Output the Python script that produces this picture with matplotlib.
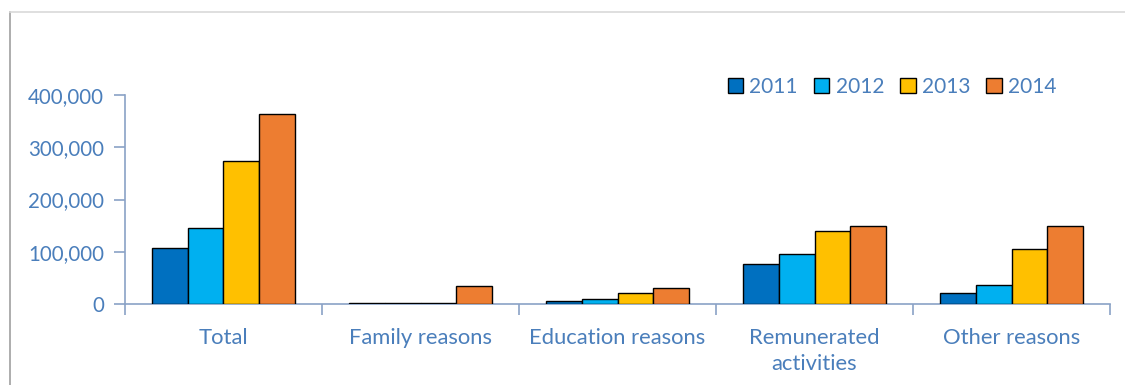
import matplotlib.pyplot as plt
from matplotlib.lines import Line2D
import numpy as np

# Values
categories = ["Total", "Family reasons", "Education reasons",
              "Remunerated\nactivities", "Other reasons"]
years = ["2011", "2012", "2013", "2014"]
v2011 = [107000, 1500, 6000, 76000, 21000]
v2012 = [146000, 1500, 9500, 96000, 36000]
v2013 = [274000, 1500, 21000, 139500, 104500]
v2014 = [364000, 34000, 30000, 148500, 148500]
colors = ["#0070C0", "#00B0F0", "#FFC000", "#ED7D31"]

label_col = "#4a7ebb"
axis_col = "#8aa2c6"

plt.rcParams["font.family"] = ["Lato", "DejaVu Sans"]

fig = plt.figure(figsize=(11.25, 3.85), dpi=100)
ax = fig.add_axes([0.1111, 0.2104, 0.8756, 0.5428])

x = np.arange(len(categories))
w = 0.182
series = [v2011, v2012, v2013, v2014]
for i, vals in enumerate(series):
    ax.bar(x + (i - 1.5) * w, vals, w, color=colors[i], edgecolor="black",
           linewidth=1, label=years[i], zorder=3)

ax.set_xlim(-0.5, len(categories) - 0.5)
ax.set_ylim(0, 400000)
ax.set_yticks([0, 100000, 200000, 300000, 400000])
ax.set_yticklabels(["0", "100,000", "200,000", "300,000", "400,000"])
ax.set_xticks(x)
ax.set_xticklabels(categories)
ax.set_xticks(np.arange(-0.5, len(categories)), minor=True)

ax.tick_params(axis="x", which="major", length=0, pad=17,
               labelcolor=label_col, labelsize=15.8)
ax.tick_params(axis="x", which="minor", length=8, width=1.2, color=axis_col,
               direction="out")
ax.tick_params(axis="y", length=8, width=1.2, color=axis_col, pad=7,
               labelcolor=label_col, labelsize=14.8)
for t in ax.get_xticklabels():
    t.set_linespacing(1.4)

for s in ["top", "right"]:
    ax.spines[s].set_visible(False)
for s in ["left", "bottom"]:
    ax.spines[s].set_color(axis_col)
    ax.spines[s].set_linewidth(1.2)

fig.legend(loc="upper left", bbox_to_anchor=(0.63, 0.85), ncol=4,
           frameon=False, fontsize=15, handlelength=0.75, handleheight=0.75,
           handletextpad=0.3, columnspacing=0.76, labelcolor=label_col)

# chart frame (left and top edge)
fig.add_artist(Line2D([0.0085, 0.0085], [0, 0.968], color="#a0a0a0",
                      linewidth=1.2, transform=fig.transFigure))
fig.add_artist(Line2D([0.0085, 1.0], [0.968, 0.968], color="#d9d9d9",
                      linewidth=1.2, transform=fig.transFigure))

fig.savefig("out.png", dpi=100)
